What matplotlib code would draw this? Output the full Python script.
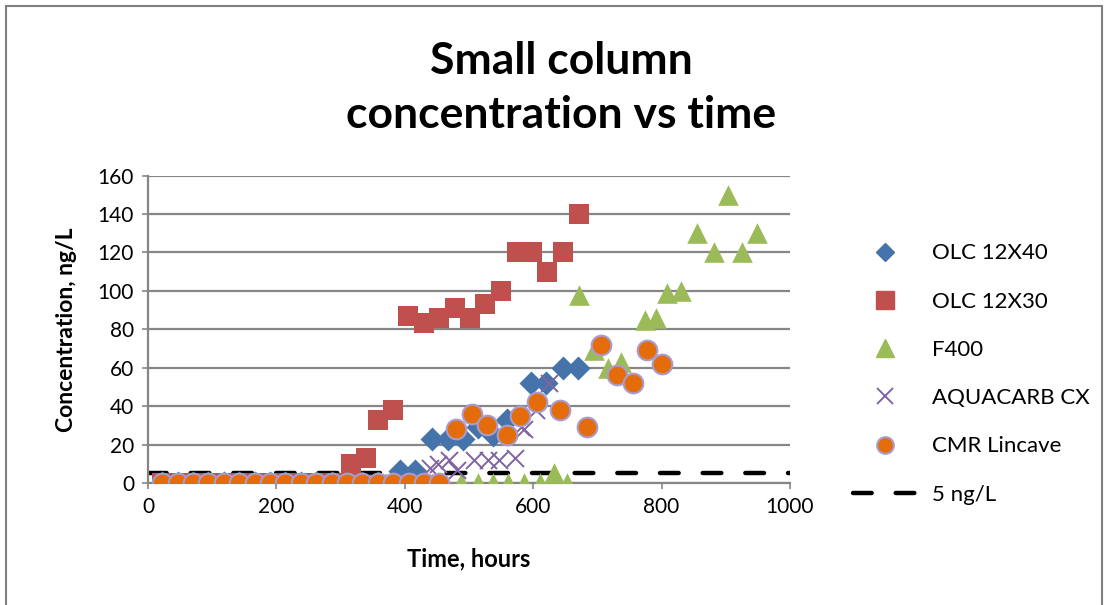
import matplotlib
matplotlib.use("Agg")
import matplotlib.pyplot as plt
from matplotlib.lines import Line2D
import matplotlib.patches as mpatches

plt.rcParams['font.family'] = ['Lato', 'DejaVu Sans']

# ---- data ----
zero_times = [22, 46, 70, 94, 118, 142, 166, 190, 214, 238, 262, 286, 310, 334, 358, 382, 406, 430, 454]

olc12x40_x = zero_times[:16] + [393, 416, 443, 468, 491, 514, 537, 559, 597, 620, 646, 670]
olc12x40_y = [0] * 16 + [6, 6, 23, 23, 23, 29, 25, 33, 52, 52, 60, 60]

olc12x30_x = zero_times[:13] + [316, 340, 358, 382, 405, 430, 453, 478, 502, 525, 550, 574, 598, 622, 646, 671]
olc12x30_y = [0] * 13 + [10, 13, 33, 38, 87, 83, 86, 91, 86, 93, 100, 120, 120, 110, 120, 140]

f400_x = zero_times + [487, 514, 537, 561, 586, 610, 633, 652, 671, 694, 717, 737, 774, 792, 809, 830, 855, 881, 903, 925, 948]
f400_y = [0] * 19 + [0, 0, 0, 0, 0, 0, 5, 0, 98, 69, 60, 63, 85, 86, 99, 100, 130, 120, 150, 120, 130]

aquacarb_x = zero_times[:18] + [440, 451, 469, 482, 508, 529, 547, 571, 586, 581, 605, 625]
aquacarb_y = [0] * 18 + [8, 10, 12, 7, 12, 12, 12, 13, 28, 29, 38, 52]

cmr_x = zero_times + [480, 505, 528, 559, 580, 606, 642, 684, 706, 730, 755, 778, 800]
cmr_y = [0] * 19 + [28, 36, 30, 25, 35, 42, 38, 29, 72, 56, 52, 69, 62]

limit_x = [0, 1000]
limit_y = [5, 5]

x_ticks = [0, 200, 400, 600, 800, 1000]
y_ticks = [0, 20, 40, 60, 80, 100, 120, 140, 160]

# ---- figure ----
fig = plt.figure(figsize=(11.07, 6.05), dpi=100)
ax = fig.add_axes([148 / 1107, 1 - 483 / 605, (790 - 148) / 1107, (483 - 175.5) / 605])

grid_c = '#868686'
for yv in y_ticks:
    ax.axhline(yv, color=grid_c, lw=1.6, zorder=0)

dash_pat = (4.2, 5.4)
ax.plot(limit_x, limit_y, color='black', lw=3.2, dashes=dash_pat,
        dash_capstyle='round', zorder=1, label='5 ng/L')

ax.scatter(olc12x40_x, olc12x40_y, marker='D', s=150, color='#4674AA', zorder=3, label='OLC 12X40', linewidths=0)
ax.scatter(olc12x30_x, olc12x30_y, marker='s', s=200, color='#C0504D', zorder=2, label='OLC 12X30', linewidths=0)
ax.scatter(f400_x, f400_y, marker='^', s=220, color='#9BBB59', zorder=4, label='F400', linewidths=0)
ax.scatter(aquacarb_x, aquacarb_y, marker='x', s=150, color='#8064A2', zorder=5, label='AQUACARB CX', linewidths=1.4)
ax.scatter(cmr_x, cmr_y, marker='o', s=200, color='#E46C0A', edgecolors='#A99BCB', linewidths=1.5, zorder=6, label='CMR Lincave')

ax.set_xlim(0, 1000)
ax.set_ylim(0, 160)
ax.set_xticks(x_ticks)
ax.set_yticks(y_ticks)
ax.tick_params(axis='both', labelsize=15, length=4, color=grid_c, width=1.2, pad=6)
for s in ['top', 'right']:
    ax.spines[s].set_visible(False)
ax.spines['left'].set_color(grid_c)
ax.spines['left'].set_linewidth(1.6)
ax.spines['bottom'].set_color(grid_c)
ax.spines['bottom'].set_linewidth(1.6)

ax.set_xlabel('Time, hours', fontsize=17, fontweight='bold', labelpad=22)
ax.set_ylabel('Concentration, ng/L', fontsize=16.5, fontweight='bold', labelpad=15)

fig.text(561 / 1107, 1 - 88 / 605, 'Small column\nconcentration vs time', ha='center', va='center',
         fontsize=32, fontweight='bold', linespacing=1.42)

handles = [
    Line2D([], [], marker='D', ls='none', color='#4674AA', markersize=9),
    Line2D([], [], marker='s', ls='none', color='#C0504D', markersize=13),
    Line2D([], [], marker='^', ls='none', color='#9BBB59', markersize=13),
    Line2D([], [], marker='x', ls='none', color='#8064A2', markersize=11, markeredgewidth=1.4),
    Line2D([], [], marker='o', ls='none', color='#E46C0A', markeredgecolor='#A99BCB', markeredgewidth=1.5, markersize=12),
    Line2D([], [], color='black', lw=3.2, dashes=dash_pat, dash_capstyle='round'),
]
labels = ['OLC 12X40', 'OLC 12X30', 'F400', 'AQUACARB CX', 'CMR Lincave', '5 ng/L']
fig.legend(handles, labels, loc='center left', bbox_to_anchor=(853 / 1107, 1 - 374 / 605),
           frameon=False, fontsize=16, labelspacing=1.27, handlelength=2.9, handletextpad=0.65,
           borderaxespad=0, borderpad=0)

# figure border
border = mpatches.Rectangle((6 / 1107, -0.05), (1102 - 6) / 1107, 1 - 6 / 605 + 0.05,
                            transform=fig.transFigure, fill=False, edgecolor='#7F7F7F', lw=1.5)
fig.patches.append(border)

fig.savefig('out.png', dpi=100)
